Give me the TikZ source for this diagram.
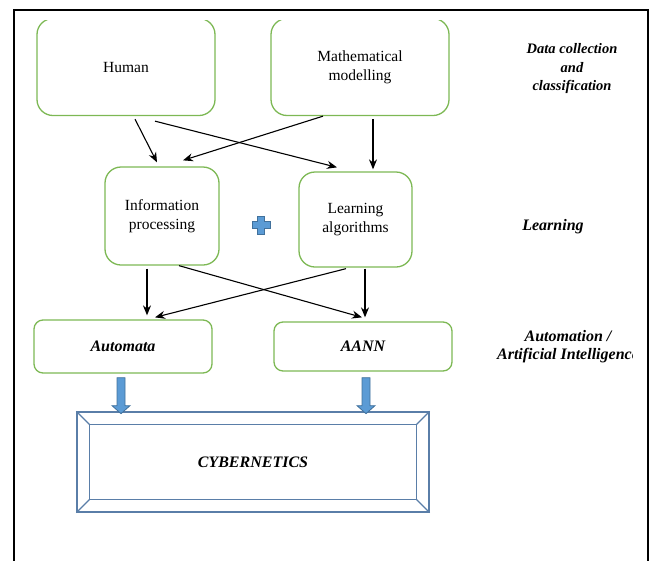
\documentclass[tikz,border=0pt]{standalone}
\usepackage{fontspec}
\setmainfont{Liberation Serif}
\usetikzlibrary{arrows.meta,calc}
\definecolor{boxgreen}{RGB}{125,184,84}
\definecolor{cyberblue}{RGB}{90,126,168}
\definecolor{arrowblue}{RGB}{91,155,213}
\definecolor{arrowedge}{RGB}{65,113,156}
\begin{document}
\begin{tikzpicture}[x=1pt,y=-1pt,
  gbox/.style={draw=boxgreen,line width=1.3pt,rounded corners=16pt,inner sep=0pt,align=center,font=\fontsize{15.5}{19}\selectfont},
  sbox/.style={gbox,rounded corners=9pt,font=\fontsize{16}{19}\selectfont\bfseries\itshape},
  arr/.style={-{Stealth[length=10pt,width=8pt]},line width=1.1pt},
  lab/.style={align=center,font=\fontsize{16}{18.5}\selectfont\bfseries\itshape},
  bluearrow/.style={fill=arrowblue,draw=arrowedge,line width=0.8pt},
  cyberline/.style={draw=cyberblue,line width=1.2pt}]
\useasboundingbox (0,0) rectangle (652,560);
% outer frame
\draw[line width=2.5pt] (14,562) -- (14,10) -- (648,10) -- (648,562);
% top boxes (top edge cut off)
\begin{scope}
  \clip (0,20) rectangle (652,560);
  \node[gbox,minimum width=178pt,minimum height=97pt] (human) at (126,67) {Human};
  \node[gbox,minimum width=178pt,minimum height=97pt] (math) at (360,67) {Mathematical\\modelling};
\end{scope}
\node[gbox,minimum width=114pt,minimum height=98pt] (info) at (162,216) {Information\\processing};
\node[gbox,minimum width=113pt,minimum height=95pt] (learn) at (355.5,219.5) {Learning\\algorithms};
\node[sbox,minimum width=178pt,minimum height=53pt] (automata) at (123,346.5) {Automata};
\node[sbox,minimum width=178pt,minimum height=49pt] (aann) at (363,346.5) {AANN};
\node[cyberline,minimum width=352pt,minimum height=100pt,inner sep=0pt,font=\fontsize{16}{19}\selectfont\bfseries\itshape] (cyber) at (253,462) {CYBERNETICS};
\draw[cyberline] ([xshift=13pt,yshift=-13pt]cyber.north west) rectangle ([xshift=-13pt,yshift=13pt]cyber.south east);
\draw[cyberline] (cyber.north west) -- ++(13,13);
\draw[cyberline] (cyber.north east) -- ++(-13,13);
\draw[cyberline] (cyber.south west) -- ++(13,-13);
\draw[cyberline] (cyber.south east) -- ++(-13,-13);
% black arrows
\draw[arr] ([xshift=9pt,yshift=-3pt]human.south) -- ([xshift=-5pt,yshift=4pt]info.north);
\draw[arr] ([xshift=29pt,yshift=-5pt]human.south) -- ([xshift=-18.5pt,yshift=4pt]learn.north);
\draw[arr] ([xshift=-37pt]math.south) -- ([xshift=21pt,yshift=6pt]info.north);
\draw[arr] ([xshift=13pt,yshift=-3pt]math.south) -- ([xshift=17.5pt,yshift=2pt]learn.north);
\draw[arr] ([xshift=-15pt,yshift=-3pt]info.south) -- ([xshift=24pt,yshift=4pt]automata.north);
\draw[arr] ([xshift=17pt]info.south) -- ([xshift=-1pt,yshift=4pt]aann.north);
\draw[arr] ([xshift=-9.5pt,yshift=-1pt]learn.south) -- ([xshift=32pt,yshift=2pt]automata.north);
\draw[arr] ([xshift=9.5pt,yshift=-1pt]learn.south) -- ([xshift=2pt,yshift=4pt]aann.north);
% blue block arrows
\coordinate (b1) at ([xshift=-2pt,yshift=-4pt]automata.south);
\coordinate (b2) at ([xshift=3pt,yshift=-6pt]aann.south);
\foreach \b in {b1,b2}{
  \draw[bluearrow] (\b) ++(-4,0) -- ++(8,0) -- ++(0,28) -- ++(5,0) -- ++(-9,8) -- ++(-9,-8) -- ++(5,0) -- cycle;
}
% plus sign
\coordinate (plus) at (261,225);
\draw[bluearrow] (plus) ++(-3.5,-9) -- ++(7,0) -- ++(0,5.5) -- ++(5.5,0) -- ++(0,7) -- ++(-5.5,0) -- ++(0,5.5) -- ++(-7,0) -- ++(0,-5.5) -- ++(-5.5,0) -- ++(0,-7) -- ++(5.5,0) -- cycle;
% right labels
\node[lab,font=\fontsize{14.5}{18.5}\selectfont\bfseries\itshape] (l1) at (572,69) {Data collection\\and\\classification};
\node[lab] (l2) at (553,227) {Learning};
\begin{scope}
  \clip (0,0) rectangle (632,560);
  \node[lab] (l3) at (568,346.5) {Automation /\\Artificial Intelligence};
\end{scope}
\end{tikzpicture}
\end{document}
